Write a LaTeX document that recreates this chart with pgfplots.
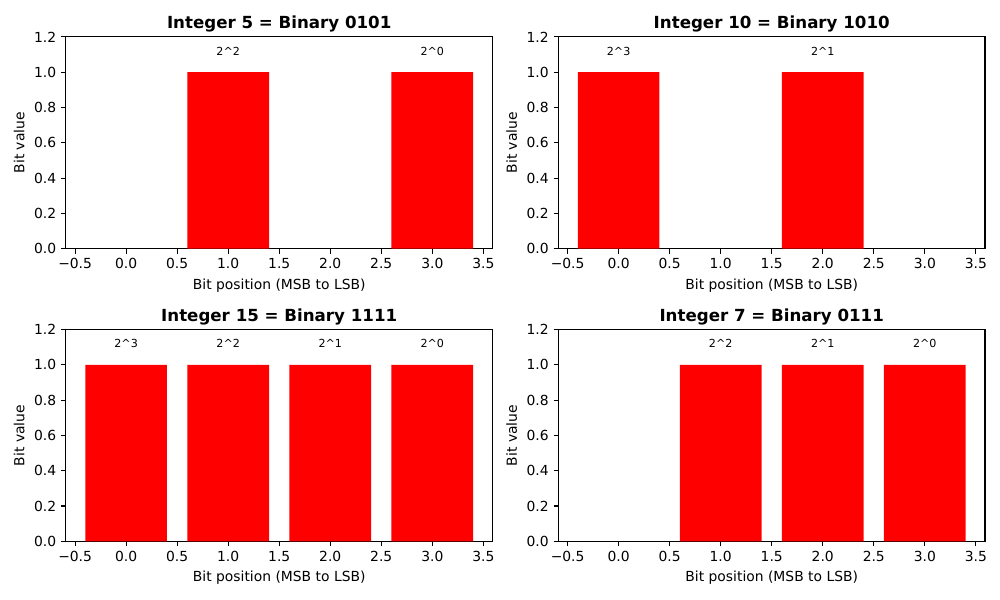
\documentclass[border=0pt]{standalone}
\usepackage{pgfplots}
\pgfplotsset{compat=1.18}
\usepgfplotslibrary{groupplots}
\usepackage{fontspec}
\setmainfont{DejaVu Sans}
\definecolor{barred}{RGB}{255,0,0}

\pgfplotsset{
  bitpanel/.style={
    scale only axis,
    width=307.4pt, height=152.6pt,
    xmin=-0.59, xmax=3.59,
    ymin=0, ymax=1.2,
    xtick={-0.5,0,0.5,1,1.5,2,2.5,3,3.5},
    xticklabels={−0.5,0.0,0.5,1.0,1.5,2.0,2.5,3.0,3.5},
    ytick={0,0.2,0.4,0.6,0.8,1.0,1.2},
    yticklabels={0.0,0.2,0.4,0.6,0.8,1.0,1.2},
    xtick pos=bottom, ytick pos=left,
    tick align=outside,
    major tick length=3.5pt,
    tick style={line width=0.8pt, black},
    axis line style={line width=0.8pt},
    ticklabel style={font=\fontsize{10}{12}\selectfont},
    xlabel style={font=\fontsize{10}{12}\selectfont},
    ylabel style={font=\fontsize{10}{12}\selectfont},
    title style={font=\bfseries\fontsize{12}{14}\selectfont, yshift=-6pt},
    xlabel={Bit position (MSB to LSB)},
    ylabel={Bit value},
    /pgf/number format/assume math mode=true,
  },
  bits/.style={ybar, bar width=0.8, bar shift=0pt, fill=barred, draw=none},
  powers/.style={draw=none, mark=none,
    nodes near coords={\pgfplotspointmeta},
    point meta=explicit symbolic,
    nodes near coords align=center,
    every node near coord/.append style={font=\fontsize{8}{9}\selectfont, anchor=center, black}},
}

\begin{document}
\begin{tikzpicture}
\begin{groupplot}[
  group style={group size=2 by 2, horizontal sep=47.5pt, vertical sep=58.3pt},
  bitpanel]
% 5 = 0101 (zero bits have no bar)
\nextgroupplot[title={Integer 5 = Binary 0101}]
\addplot[bits] coordinates {(1,1) (3,1)};
\addplot[powers] coordinates {(1,1.12) [2\string^2] (3,1.12) [2\string^0]};
% 10 = 1010
\nextgroupplot[title={Integer 10 = Binary 1010}]
\addplot[bits] coordinates {(0,1) (2,1)};
\addplot[powers] coordinates {(0,1.12) [2\string^3] (2,1.12) [2\string^1]};
% 15 = 1111
\nextgroupplot[title={Integer 15 = Binary 1111}]
\addplot[bits] coordinates {(0,1) (1,1) (2,1) (3,1)};
\addplot[powers] coordinates {(0,1.12) [2\string^3] (1,1.12) [2\string^2] (2,1.12) [2\string^1] (3,1.12) [2\string^0]};
% 7 = 0111
\nextgroupplot[title={Integer 7 = Binary 0111}]
\addplot[bits] coordinates {(1,1) (2,1) (3,1)};
\addplot[powers] coordinates {(1,1.12) [2\string^2] (2,1.12) [2\string^1] (3,1.12) [2\string^0]};
\end{groupplot}
% page frame: 1000 x 600 px at 0.72pt per px
\path (group c1r1.north west) ++(-47.5pt,26.6pt) coordinate (tl);
\path (group c2r2.south east) ++(10.8pt,-41.8pt) coordinate (br);
\useasboundingbox (tl) rectangle (br);
\end{tikzpicture}
\end{document}
